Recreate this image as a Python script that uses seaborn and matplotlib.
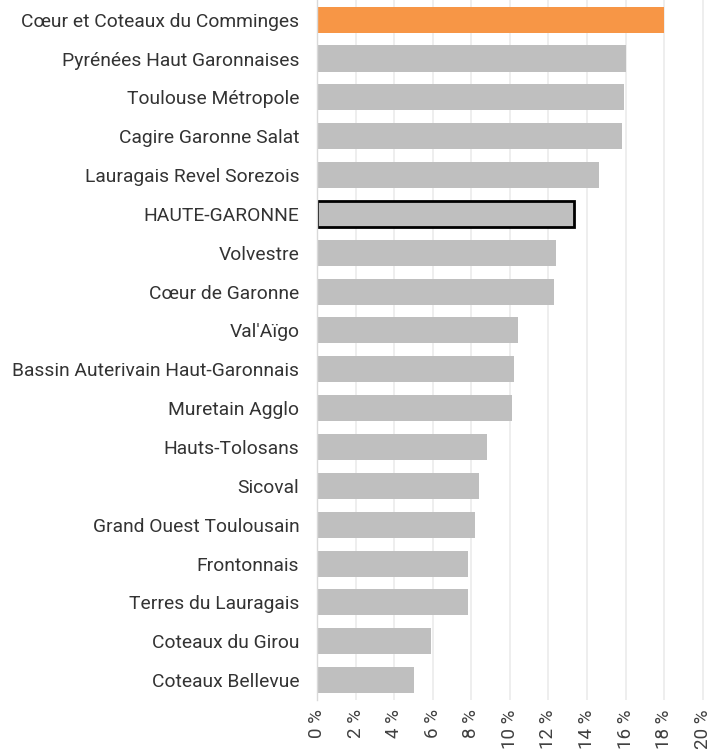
import pandas as pd
import matplotlib.pyplot as plt
import seaborn as sns
from matplotlib.ticker import FuncFormatter, MultipleLocator

territoires = [
    "Cœur et Coteaux du Comminges",
    "Pyrénées Haut Garonnaises",
    "Toulouse Métropole",
    "Cagire Garonne Salat",
    "Lauragais Revel Sorezois",
    "HAUTE-GARONNE",
    "Volvestre",
    "Cœur de Garonne",
    "Val'Aïgo",
    "Bassin Auterivain Haut-Garonnais",
    "Muretain Agglo",
    "Hauts-Tolosans",
    "Sicoval",
    "Grand Ouest Toulousain",
    "Frontonnais",
    "Terres du Lauragais",
    "Coteaux du Girou",
    "Coteaux Bellevue",
]
valeurs = [18.0, 16.0, 15.9, 15.8, 14.6, 13.3, 12.4, 12.3, 10.4, 10.2,
           10.1, 8.8, 8.4, 8.2, 7.8, 7.8, 5.9, 5.0]

df = pd.DataFrame({"Territoire": territoires, "Valeur": valeurs})

sns.set_theme(style="white")
plt.rcParams["font.family"] = ["Roboto", "DejaVu Sans"]

couleurs = {t: "#bfbfbf" for t in territoires}
couleurs[territoires[0]] = "#f79646"

fig = plt.figure(figsize=(7.22, 7.56), dpi=100)
ax = fig.add_axes([0.4395, 0.0747, 0.547, 0.925])

sns.barplot(data=df, y="Territoire", x="Valeur", hue="Territoire",
            palette=couleurs, legend=False, width=0.67, ax=ax,
            saturation=1, edgecolor="none", zorder=2)

# contour noir pour le département
for barre, nom in zip(ax.patches, territoires):
    if nom == "HAUTE-GARONNE":
        barre.set_edgecolor("black")
        barre.set_linewidth(2)

ax.set_xlim(0, 20.5)
ax.set_ylim(len(territoires) - 0.5, -0.5)
ax.xaxis.set_major_locator(MultipleLocator(2))
ax.xaxis.set_major_formatter(FuncFormatter(lambda v, p: f"{v:.0f} %"))
ax.grid(axis="x", color="#ebebeb", linewidth=1.2, zorder=0)
ax.set_axisbelow(True)

for s in ["top", "right", "bottom"]:
    ax.spines[s].set_visible(False)
ax.spines["left"].set_color("#d9d9d9")
ax.spines["left"].set_linewidth(1)

ax.set_xlabel("")
ax.set_ylabel("")
ax.tick_params(axis="x", labelrotation=90, labelsize=13.5, colors="#404040",
               length=0, pad=7)
ax.tick_params(axis="y", labelsize=13.9, colors="#333333", length=0, pad=13)

fig.savefig("out.png", dpi=100)
